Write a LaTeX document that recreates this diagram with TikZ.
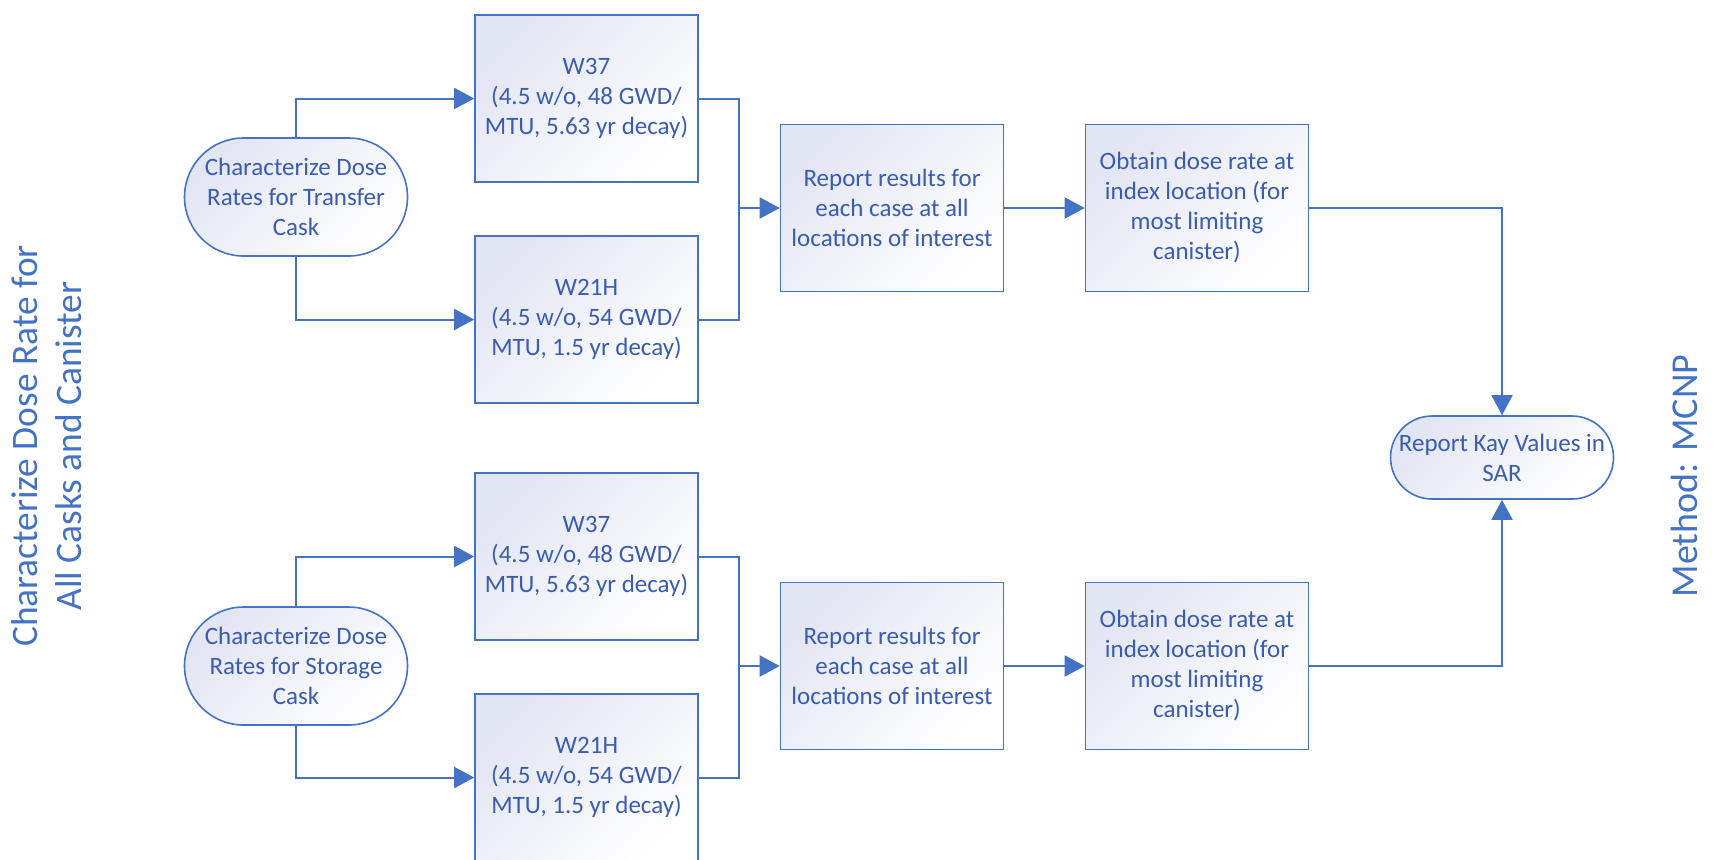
\documentclass[tikz,border=0pt]{standalone}
\usepackage{fontspec}
\setmainfont{Carlito}
\usetikzlibrary{arrows.meta,shapes.misc}
\definecolor{flowblue}{HTML}{4472C4}
\definecolor{flowtext}{HTML}{3A5CB0}
\definecolor{boxtint}{HTML}{E2E5F2}

\begin{document}
\begin{tikzpicture}[x=0.5pt, y=-0.5pt,
  box/.style={draw=flowblue, line width=0.8pt, top color=boxtint, bottom color=white, shading angle=45,
    minimum width=111.5pt, minimum height=83.5pt, inner sep=0pt, align=center, text=flowtext,
    font=\fontsize{12.5}{15}\selectfont},
  term/.style={box, rounded rectangle, minimum height=59pt},
  flow/.style={draw=flowblue, line width=1pt, -{Triangle[length=10pt,width=10.5pt]}},
  link/.style={draw=flowblue, line width=1pt},
  side/.style={rotate=90, text=flowblue, align=center, font=\fontsize{18.7}{22}\selectfont}]
  \useasboundingbox (0,0) rectangle (1716,859);

  % transfer cask
  \node[term] (tr) at (296,197) {Characterize Dose\\Rates for Transfer\\Cask};
  \node[box] (w37a) at (586.5,98.5) {W37\\(4.5 w/o, 48 GWD/\\MTU, 5.63 yr decay)};
  \node[box] (w21a) at (586.5,319.5) {W21H\\(4.5 w/o, 54 GWD/\\MTU, 1.5 yr decay)};
  \node[box] (repa) at (892,208) {Report results for\\each case at all\\locations of interest};
  \node[box] (obta) at (1197,208) {Obtain dose rate at\\index location (for\\most limiting\\canister)};
  \coordinate (mrga) at (739,208);

  % storage cask
  \node[term] (st) at (296,666) {Characterize Dose\\Rates for Storage\\Cask};
  \node[box] (w37b) at (586.5,556.5) {W37\\(4.5 w/o, 48 GWD/\\MTU, 5.63 yr decay)};
  \node[box] (w21b) at (586.5,777.5) {W21H\\(4.5 w/o, 54 GWD/\\MTU, 1.5 yr decay)};
  \node[box] (repb) at (892,666) {Report results for\\each case at all\\locations of interest};
  \node[box] (obtb) at (1197,666) {Obtain dose rate at\\index location (for\\most limiting\\canister)};
  \coordinate (mrgb) at (739,666);

  \node[term, minimum height=41.5pt] (sar) at (1502,457.5) {Report Kay Values in\\SAR};

  \node[side] (lbl) at (47,446) {Characterize Dose Rate for\\All Casks and Canister};
  \node[side, anchor=base, font=\fontsize{19}{22}\selectfont] (meth) at (1697,476) {Method: MCNP};

  \draw[flow] (tr.north) |- (w37a.west);
  \draw[flow] (tr.south) |- (w21a.west);
  \draw[link] (w37a.east) -| (mrga);
  \draw[link] (w21a.east) -| (mrga);
  \draw[flow] (mrga) -- (repa.west);
  \draw[flow] (repa) -- (obta);
  \draw[flow] (obta.east) -| (sar.north);

  \draw[flow] (st.north) |- (w37b.west);
  \draw[flow] (st.south) |- (w21b.west);
  \draw[link] (w37b.east) -| (mrgb);
  \draw[link] (w21b.east) -| (mrgb);
  \draw[flow] (mrgb) -- (repb.west);
  \draw[flow] (repb) -- (obtb);
  \draw[flow] (obtb.east) -| (sar.south);
\end{tikzpicture}
\end{document}
